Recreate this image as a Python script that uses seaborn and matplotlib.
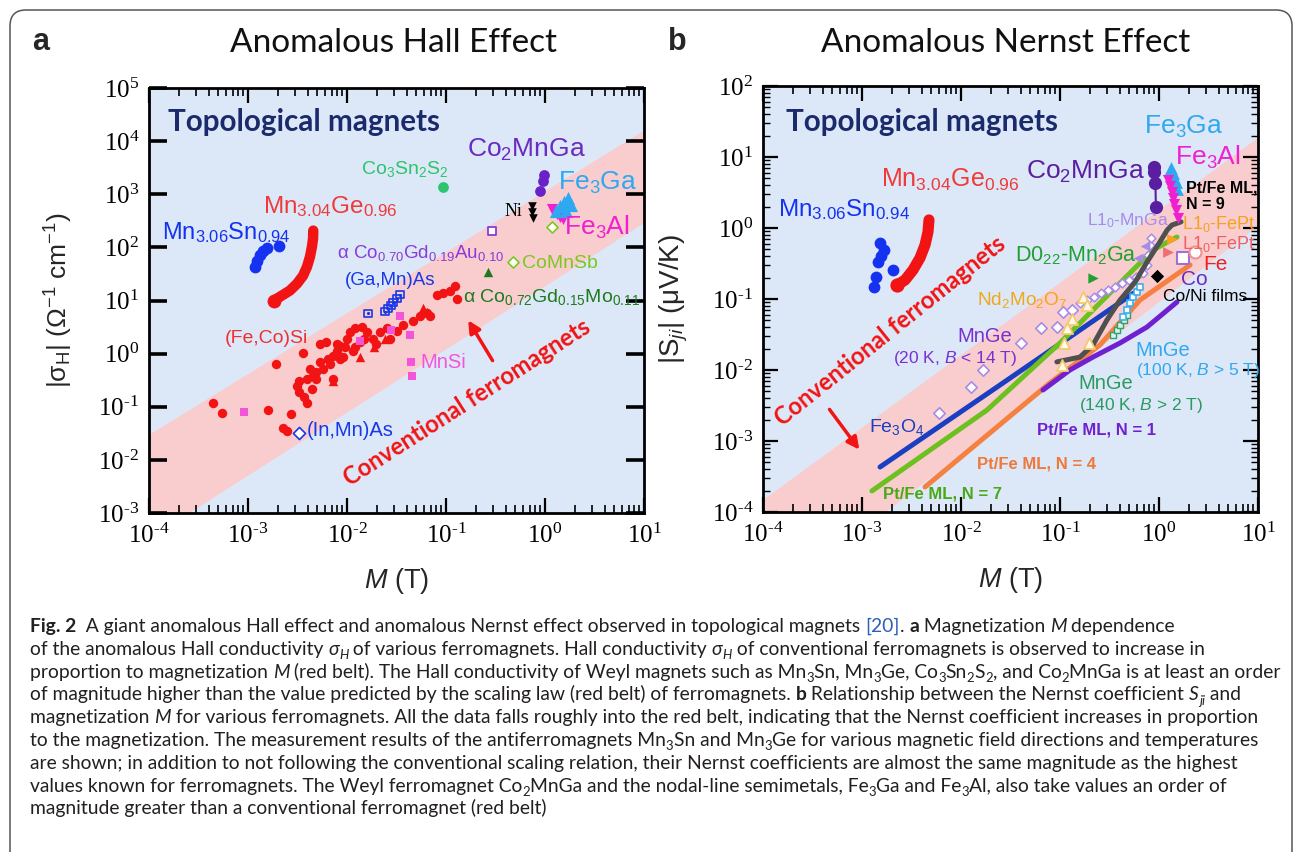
import numpy as np
import matplotlib
matplotlib.use("Agg")
import matplotlib.pyplot as plt
import seaborn as sns
from matplotlib.patches import FancyBboxPatch
from matplotlib.transforms import IdentityTransform
from matplotlib.ticker import LogLocator, FuncFormatter, NullLocator, NullFormatter

# ---------------- Panel a: anomalous Hall conductivity |sigma_H| vs M ----------------
hall_mn3sn_M = [1.18e-3, 1.23e-3, 1.32e-3, 1.42e-3, 1.56e-3, 2.06e-3]
hall_mn3sn_sigma = [43, 56, 73, 87, 99, 104]

hall_mn3ge_M = [1.83e-3, 2.2e-3, 2.65e-3, 3.13e-3, 3.6e-3, 3.95e-3, 4.23e-3, 4.43e-3, 4.54e-3, 4.56e-3]
hall_mn3ge_sigma = [10, 12.4, 15.4, 20.8, 29.4, 43.5, 67, 104, 147, 207]

hall_co3sn2s2_M = [0.093]
hall_co3sn2s2_sigma = [1380]

hall_co2mnga_M = [0.97, 0.95, 0.90]
hall_co2mnga_sigma = [2300, 1780, 1150]

hall_fe3ga_M = [1.29, 1.42, 1.56, 1.71, 1.83, 1.63]
hall_fe3ga_sigma = [493, 612, 728, 867, 640, 493]

hall_fe3al_M = [1.18, 1.32, 1.42, 1.52]
hall_fe3al_sigma = [538, 433, 380, 349]

hall_ni_M = [0.74, 0.74, 0.75]
hall_ni_sigma = [612, 472, 364]

hall_comnsb_M = [1.18, 0.475]
hall_comnsb_sigma = [246, 52]

hall_cogdau_M = [0.29]
hall_cogdau_sigma = [199]

hall_cogdmo_M = [0.265]
hall_cogdmo_sigma = [35]

hall_gamnas_M = [0.0163, 0.0242, 0.026, 0.0278, 0.0292, 0.032, 0.0343]
hall_gamnas_sigma = [5.7, 6.2, 7.0, 8.0, 9.1, 10.9, 12.9]

hall_inmnas_M = [3.27e-3]
hall_inmnas_sigma = [0.0325]

hall_mnsi_M = [9.1e-4, 0.0135, 0.028, 0.034, 0.043, 0.044, 0.045]
hall_mnsi_sigma = [0.080, 1.7, 2.8, 5.2, 2.2, 0.70, 0.38]

hall_fecosi_M = [4.4e-4, 5.5e-4, 1.58e-3, 2.75e-3, 2.24e-3, 2.45e-3, 1.9e-3, 3.56e-3, 5.3e-3, 6.2e-3,
                 3.1e-3, 3.3e-3, 3.7e-3, 3.9e-3, 4.5e-3, 4.9e-3, 4.4e-3, 5.3e-3, 5.7e-3, 6.4e-3,
                 7.2e-3, 7.9e-3, 8.5e-3, 0.010, 0.0107, 0.012, 0.0141, 0.0159, 9.1e-3, 0.0115,
                 0.0135, 0.0183, 0.0215, 0.0253, 0.032, 0.0368, 0.0465, 0.0547, 0.0644, 0.069,
                 0.0815, 0.094, 0.110, 0.124, 0.130, 7.2e-3, 3.9e-3, 4.9e-3, 7.9e-3, 9.6e-3,
                 6.7e-3, 4.2e-3, 3.3e-3, 0.015, 0.0195, 0.027, 8.5e-3, 0.012]
hall_fecosi_sigma = [0.119, 0.077, 0.087, 0.073, 0.040, 0.035, 0.65, 1.04, 1.55, 1.69,
                     0.25, 0.19, 0.154, 0.119, 0.38, 0.34, 0.22, 0.71, 0.52, 0.80,
                     0.92, 1.14, 1.42, 1.92, 2.6, 3.0, 3.2, 2.6, 0.88, 1.14,
                     1.69, 1.92, 2.6, 3.0, 2.7, 3.4, 4.2, 5.0, 5.7, 5.2,
                     12.5, 13.6, 14.9, 18.5, 10.5, 0.34, 0.34, 0.46, 1.55, 1.36,
                     0.65, 0.52, 0.31, 1.92, 1.55, 1.92, 0.80, 1.36]

hall_tri_M = [7.2e-3, 0.0135, 0.0187, 0.0242, 0.0587, 0.0644]
hall_tri_sigma = [0.31, 0.88, 1.36, 1.92, 7.1, 6.0]

# belt of conventional ferromagnets (upper and lower edges, straight on log-log axes)
hall_belt_M = [1e-5, 100]
hall_belt_upper = [2.1e-3, 2.2e5]
hall_belt_lower = [2.1e-5, 4.4e3]

# ---------------- Panel b: anomalous Nernst coefficient |S_ji| vs M ----------------
nernst_mn3sn_M = [1.52e-3, 1.67e-3, 1.55e-3, 1.45e-3, 2.06e-3, 1.38e-3, 1.32e-3]
nernst_mn3sn_S = [0.615, 0.49, 0.40, 0.33, 0.256, 0.204, 0.148]

nernst_mn3ge_M = [2.26e-3, 2.72e-3, 3.27e-3, 3.85e-3, 4.33e-3, 4.64e-3, 4.75e-3]
nernst_mn3ge_S = [0.157, 0.185, 0.256, 0.378, 0.576, 0.88, 1.30]

nernst_co2mnga_M = [0.89, 0.90, 0.92, 0.93]
nernst_co2mnga_S = [7.2, 6.2, 4.3, 2.0]

nernst_fe3ga_M = [1.32, 1.38, 1.42, 1.48, 1.52]
nernst_fe3ga_S = [7.0, 6.0, 5.0, 4.4, 3.6]

nernst_fe3al_M = [1.23, 1.30, 1.35, 1.40, 1.43, 1.48, 1.56]
nernst_fe3al_S = [4.7, 3.9, 3.2, 2.65, 2.2, 1.8, 1.4]

nernst_ptfe9_M = [0.093, 0.159, 0.215, 0.298, 0.404, 0.573, 0.757, 1.02, 1.21, 1.35, 1.67]
nernst_ptfe9_S = [0.0130, 0.0152, 0.0225, 0.0506, 0.0968, 0.173, 0.332, 0.635, 0.937, 1.10, 1.22]

nernst_ptfe7_M = [1.26e-3, 0.0183, 0.1, 0.869, 1.52]
nernst_ptfe7_S = [1.98e-4, 2.73e-3, 0.024, 0.49, 0.747]

nernst_ptfe4_M = [4.33e-3, 0.079, 0.253, 0.643, 2.06]
nernst_ptfe4_S = [2.25e-4, 6.56e-3, 0.0225, 0.0968, 0.301]

nernst_ptfe1_M = [0.0673, 0.126, 0.215, 0.404, 0.757, 1.52]
nernst_ptfe1_S = [5.23e-3, 0.01, 0.0152, 0.024, 0.0403, 0.0907]

nernst_fe3o4_M = [1.52e-3, 0.025, 0.55]
nernst_fe3o4_S = [4.3e-4, 6.2e-3, 0.12]

nernst_mnge20_M = [6.0e-3, 0.0126, 0.0167, 0.0404, 0.0643, 0.0933, 0.107, 0.132]
nernst_mnge20_S = [2.48e-3, 5.77e-3, 0.0100, 0.024, 0.039, 0.0403, 0.0656, 0.070]

nernst_mnga_M = [0.159, 0.187, 0.220, 0.259, 0.305, 0.360, 0.423, 0.498, 0.586, 0.689, 0.757, 0.77, 0.811, 0.83]
nernst_mnga_S = [0.0879, 0.0968, 0.107, 0.121, 0.134, 0.148, 0.168, 0.185, 0.204, 0.232, 0.301, 0.417, 0.576, 0.723]

nernst_l10mnga_M = [0.61, 0.72]
nernst_l10mnga_S = [0.38, 0.55]

nernst_nd2mo2o7_M = [0.171, 0.187, 0.132, 0.118, 0.110, 0.196, 0.105]
nernst_nd2mo2o7_S = [0.107, 0.0823, 0.0523, 0.039, 0.024, 0.024, 0.0118]

nernst_mnge100_M = [0.432, 0.475, 0.509, 0.546, 0.600, 0.643]
nernst_mnge100_S = [0.0557, 0.070, 0.0879, 0.107, 0.126, 0.148]

nernst_mnge140_M = [0.343, 0.376, 0.404, 0.443, 0.475]
nernst_mnge140_S = [0.0311, 0.0366, 0.043, 0.0506, 0.0595]

nernst_d022_M = [0.215]
nernst_d022_S = [0.198]
nernst_coni_M = [0.955]
nernst_coni_S = [0.211]
nernst_co_M = [1.75]
nernst_co_S = [0.378]
nernst_fe_M = [2.31]
nernst_fe_S = [0.459]
nernst_fept1_M = [1.35]
nernst_fept1_S = [0.70]
nernst_fept2_M = [1.23]
nernst_fept2_S = [0.459]

nernst_belt_M = [1e-5, 100]
nernst_belt_upper = [1.4e-5, 195]
nernst_belt_lower = [3.9e-7, 12.6]

x_decades = [1e-4, 1e-3, 1e-2, 1e-1, 1e0, 1e1]

# ---------------- style ----------------
sns.set_theme(style="ticks")
plt.rcParams["font.family"] = ["Liberation Sans", "DejaVu Sans"]
plt.rcParams["mathtext.fontset"] = "custom"
plt.rcParams["mathtext.rm"] = "Liberation Sans"
plt.rcParams["mathtext.it"] = "Liberation Sans:italic"
plt.rcParams["mathtext.bf"] = "Liberation Sans:bold"

BG_BLUE = "#dce8f8"
BELT = "#f9cdcd"
NAVY = "#1b2a6b"
RED = "#f21414"

W, H = 1295, 852
fig = plt.figure(figsize=(W / 100, H / 100), dpi=100)
fig.patch.set_facecolor("white")

ax_a = fig.add_axes([149 / W, 1 - 513 / H, 495 / W, 425 / H])
ax_b = fig.add_axes([763 / W, 1 - 512 / H, 495 / W, 426 / H])


def decade_label(v, pos):
    e = int(round(np.log10(v)))
    exp = ("\u2010%d" % -e) if e < 0 else "%d" % e
    return r"$\mathregular{10^{%s}}$" % exp


decade_fmt = FuncFormatter(decade_label)


def style_axes(ax, ylim, y_minor):
    ax.set_xscale("log")
    ax.set_yscale("log")
    ax.set_xlim(x_decades[0], x_decades[-1])
    ax.set_ylim(*ylim)
    ax.set_facecolor(BG_BLUE)
    ax.xaxis.set_major_locator(LogLocator(base=10, numticks=20))
    ax.xaxis.set_minor_locator(LogLocator(base=10, subs=np.arange(2, 10), numticks=20))
    ax.yaxis.set_major_locator(LogLocator(base=10, numticks=20))
    if y_minor:
        ax.yaxis.set_minor_locator(LogLocator(base=10, subs=np.arange(2, 10), numticks=20))
    else:
        ax.yaxis.set_minor_locator(NullLocator())
    ax.xaxis.set_major_formatter(decade_fmt)
    ax.yaxis.set_major_formatter(decade_fmt)
    ax.xaxis.set_minor_formatter(NullFormatter())
    ax.yaxis.set_minor_formatter(NullFormatter())
    ax.tick_params(which="both", direction="in", top=True, right=True, colors="black",
                   labelsize=18, labelfontfamily="Liberation Serif", labelcolor="black")
    ax.tick_params(axis="x", which="major", length=11, width=1.6, pad=8)
    ax.tick_params(axis="x", which="minor", length=6, width=1.2)
    ax.tick_params(axis="y", which="major", length=13 if not y_minor else 11,
                   width=2.6 if not y_minor else 1.6, pad=7)
    ax.tick_params(axis="y", which="minor", length=5, width=1.0)
    for sp in ax.spines.values():
        sp.set_visible(True)
        sp.set_color("black")
        sp.set_linewidth(2)
        sp.set_zorder(5)
    ax.grid(False)


def belt(ax, M, upper, lower):
    xs = [M[0], M[1], M[1], M[0]]
    ys = [lower[0], lower[1], upper[1], upper[0]]
    ax.fill(xs, ys, color=BELT, lw=0, zorder=0.2)


def pts(ax, x, y, color, marker="o", s=40, face=None, lw=0, edge=None, z=3):
    sns.scatterplot(x=x, y=y, ax=ax, color=color, marker=marker, s=s,
                    facecolor=face if face is not None else color,
                    edgecolor=edge if edge is not None else color,
                    linewidth=lw, legend=False, zorder=z)


def curve(ax, x, y, color, lw, z=2.5, cap="round"):
    sns.lineplot(x=x, y=y, ax=ax, color=color, linewidth=lw, sort=False,
                 estimator=None, legend=False, zorder=z, solid_capstyle=cap)


def label(ax, fx, fy, s, size, color, **kw):
    kw.setdefault("ha", "left")
    kw.setdefault("va", "center")
    ax.text(fx, fy, s, transform=ax.transAxes, fontsize=size, color=color, zorder=6, **kw)


# ---------------- panel a ----------------
style_axes(ax_a, (1e-3, 1e5), y_minor=False)
belt(ax_a, hall_belt_M, hall_belt_upper, hall_belt_lower)

pts(ax_a, hall_fecosi_M, hall_fecosi_sigma, RED, "o", 46)
pts(ax_a, hall_tri_M, hall_tri_sigma, RED, "^", 46)
pts(ax_a, hall_mnsi_M, hall_mnsi_sigma, "#f255d8", "s", 38)
pts(ax_a, hall_gamnas_M, hall_gamnas_sigma, "#1838e8", "s", 28, face="none", lw=1.2)
pts(ax_a, hall_gamnas_M, hall_gamnas_sigma, "#1838e8", "o", 5)
pts(ax_a, hall_inmnas_M, hall_inmnas_sigma, "#1838e8", "D", 38, face="white", lw=1.2)
curve(ax_a, hall_mn3ge_M, hall_mn3ge_sigma, RED, 7.5)
pts(ax_a, hall_mn3ge_M[:1], hall_mn3ge_sigma[:1], RED, "o", 100)
pts(ax_a, hall_mn3sn_M, hall_mn3sn_sigma, "#1432f0", "o", 72)
pts(ax_a, hall_co3sn2s2_M, hall_co3sn2s2_sigma, "#2cc46c", "o", 60)
pts(ax_a, hall_co2mnga_M, hall_co2mnga_sigma, "#6a22c8", "o", 60)
pts(ax_a, hall_ni_M, hall_ni_sigma, "black", "v", 38)
pts(ax_a, hall_fe3al_M, hall_fe3al_sigma, "#f020d0", "v", 64)
pts(ax_a, hall_fe3ga_M, hall_fe3ga_sigma, "#2ea8f0", "^", 90)
pts(ax_a, hall_comnsb_M, hall_comnsb_sigma, "#7cc820", "D", 32, face="white", lw=1.2)
pts(ax_a, hall_cogdau_M, hall_cogdau_sigma, "#8a3ad8", "s", 38, face="white", lw=1.3)
pts(ax_a, hall_cogdmo_M, hall_cogdmo_sigma, "#1e7a1e", "^", 46)

label(ax_a, 0.038, 0.920, "Topological magnets", 21.3, NAVY, family="Lato", fontweight="bold")
label(ax_a, 0.642, 0.854, r"Co$_2$MnGa", 19, "#6a2bc0")
label(ax_a, 0.429, 0.809, r"Co$_3$Sn$_2$S$_2$", 14, "#2cc46c")
label(ax_a, 0.826, 0.776, r"Fe$_3$Ga", 19, "#2ea8f0")
label(ax_a, 0.230, 0.722, r"Mn$_{3.04}$Ge$_{0.96}$", 17.5, "#f03a3a")
label(ax_a, 0.719, 0.710, "Ni", 13, "black", family="Liberation Serif")
label(ax_a, 0.838, 0.671, r"Fe$_3$Al", 19, "#f020d0")
label(ax_a, 0.026, 0.659, r"Mn$_{3.06}$Sn$_{0.94}$", 17, "#1432f0")
label(ax_a, 0.380, 0.612, r"α Co$_{0.70}$Gd$_{0.19}$Au$_{0.10}$", 13.5, "#8a3ad8")
label(ax_a, 0.754, 0.588, "CoMnSb", 14, "#7cc820")
label(ax_a, 0.396, 0.546, "(Ga,Mn)As", 13.5, "#1838e8")
label(ax_a, 0.634, 0.508, r"α Co$_{0.72}$Gd$_{0.15}$Mo$_{0.11}$", 14, "#1e7a1e")
label(ax_a, 0.154, 0.410, "(Fe,Co)Si", 14, "#f03030")
label(ax_a, 0.549, 0.355, "MnSi", 14.5, "#f255d8")
label(ax_a, 0.319, 0.193, "(In,Mn)As", 14.5, "#1838e8")
label(ax_a, 0.642, 0.261, "Conventional ferromagnets", 17, RED, family="Lato",
      fontweight="bold", ha="center", rotation=32.7, rotation_mode="anchor")
ax_a.annotate("", xy=(0.642, 0.459), xytext=(0.697, 0.353), xycoords="axes fraction",
              arrowprops=dict(arrowstyle="-|>", color=RED, lw=2.5, mutation_scale=18), zorder=6)

ax_a.set_xlabel(r"$\mathit{M}$ (T)", fontsize=19.5)
ax_a.set_ylabel(r"|σ$_{\mathregular{H}}$| (Ω$^{\mathregular{-1}}$ cm$^{\mathregular{-1}}$)", fontsize=19)
ax_a.yaxis.set_label_coords(-0.15, 0.5)
ax_a.xaxis.set_label_coords(0.5, -0.125)

# ---------------- panel b ----------------
style_axes(ax_b, (1e-4, 1e2), y_minor=True)
belt(ax_b, nernst_belt_M, nernst_belt_upper, nernst_belt_lower)

curve(ax_b, nernst_fe3o4_M, nernst_fe3o4_S, "#1a3fc0", 3.6)
curve(ax_b, nernst_ptfe7_M, nernst_ptfe7_S, "#6cc020", 3.6)
curve(ax_b, nernst_ptfe4_M, nernst_ptfe4_S, "#f58040", 3.6)
curve(ax_b, nernst_ptfe1_M, nernst_ptfe1_S, "#7020d0", 3.6)
pts(ax_b, nernst_mnge20_M, nernst_mnge20_S, "#a88ae8", "D", 34, face="white", lw=1.2)
pts(ax_b, nernst_mnga_M, nernst_mnga_S, "#a88ae8", "D", 20, face="white", lw=1.1)
pts(ax_b, nernst_l10mnga_M, nernst_l10mnga_S, "#a88ae8", "<", 50)
pts(ax_b, nernst_mnge140_M, nernst_mnge140_S, "#30a070", "s", 18, face="#d8f2e4", lw=1.0)
pts(ax_b, nernst_mnge100_M, nernst_mnge100_S, "#38b0f0", "s", 22, face="white", lw=1.2)
curve(ax_b, nernst_ptfe9_M, nernst_ptfe9_S, "#505050", 3.6, z=3.2)
pts(ax_b, nernst_nd2mo2o7_M, nernst_nd2mo2o7_S, "#f2c870", "^", 64, face="#fffbe6", lw=1.3, z=3.3)
pts(ax_b, nernst_d022_M, nernst_d022_S, "#20a030", ">", 55)
pts(ax_b, nernst_coni_M, nernst_coni_S, "black", "D", 46)
pts(ax_b, nernst_co_M, nernst_co_S, "#a070d8", "s", 75, face="white", lw=1.5)
pts(ax_b, nernst_fe_M, nernst_fe_S, "#f09090", "o", 75, face="white", lw=1.5)
pts(ax_b, nernst_fept1_M, nernst_fept1_S, "#f8a020", ">", 60)
pts(ax_b, nernst_fept2_M, nernst_fept2_S, "#f07070", ">", 60)
curve(ax_b, nernst_mn3ge_M, nernst_mn3ge_S, RED, 8)
pts(ax_b, nernst_mn3ge_M[:1], nernst_mn3ge_S[:1], RED, "o", 105)
pts(ax_b, nernst_mn3sn_M, nernst_mn3sn_S, "#1432f0", "o", 72)
sns.lineplot(x=nernst_co2mnga_M, y=nernst_co2mnga_S, ax=ax_b, color="#5a1ea0", linewidth=1.5,
             sort=False, estimator=None, legend=False, marker="o", markersize=9.5,
             markeredgewidth=0, zorder=3.5)
pts(ax_b, nernst_fe3ga_M, nernst_fe3ga_S, "#2ea8f0", "^", 85, z=3.6)
pts(ax_b, nernst_fe3al_M, nernst_fe3al_S, "#f020d0", "v", 64, z=3.7)

label(ax_b, 0.046, 0.915, "Topological magnets", 21.3, NAVY, family="Lato", fontweight="bold")
label(ax_b, 0.770, 0.904, r"Fe$_3$Ga", 19, "#2ea8f0")
label(ax_b, 0.832, 0.833, r"Fe$_3$Al", 19, "#f020d0")
label(ax_b, 0.531, 0.798, r"Co$_2$MnGa", 19, "#5a1ea0")
label(ax_b, 0.855, 0.761, "Pt/Fe ML,", 11.5, "black", fontweight="bold")
label(ax_b, 0.855, 0.721, "N = 9", 11.5, "black", fontweight="bold")
label(ax_b, 0.238, 0.779, r"Mn$_{3.04}$Ge$_{0.96}$", 18, "#f03a3a")
label(ax_b, 0.030, 0.711, r"Mn$_{3.06}$Sn$_{0.94}$", 17.5, "#1432f0")
label(ax_b, 0.654, 0.683, r"L1$_0$-MnGa", 12.5, "#a88ae8")
label(ax_b, 0.846, 0.676, r"L1$_0$-FePt", 13, "#f8a020", clip_on=True)
label(ax_b, 0.846, 0.630, r"L1$_0$-FePt", 13, "#f06060", clip_on=True)
label(ax_b, 0.509, 0.601, r"D0$_{22}$-Mn$_2$Ga", 15.5, "#20a030")
label(ax_b, 0.889, 0.580, "Fe", 15, "#f02020")
label(ax_b, 0.844, 0.545, "Co", 15, "#6a2bc0")
label(ax_b, 0.808, 0.507, "Co/Ni films", 12.5, "black")
label(ax_b, 0.432, 0.498, r"Nd$_2$Mo$_2$O$_7$", 13.7, "#f0a818")
label(ax_b, 0.392, 0.412, "MnGe", 14.5, "#7a30d0")
label(ax_b, 0.263, 0.360, r"(20 K, $\mathit{B}$ < 14 T)", 12.5, "#7a30d0")
label(ax_b, 0.753, 0.380, "MnGe", 14.5, "#30a8f0")
label(ax_b, 0.753, 0.333, r"(100 K, $\mathit{B}$ > 5 T)", 12.5, "#30a8f0")
label(ax_b, 0.638, 0.301, "MnGe", 14.5, "#2a9a60")
label(ax_b, 0.638, 0.251, r"(140 K, $\mathit{B}$ > 2 T)", 12.5, "#2a9a60")
label(ax_b, 0.214, 0.199, r"Fe$_3$O$_4$", 14, "#1a3fc0")
label(ax_b, 0.554, 0.192, "Pt/Fe ML, N = 1", 12, "#7020d0", fontweight="bold")
label(ax_b, 0.432, 0.113, "Pt/Fe ML, N = 4", 12, "#f07838", fontweight="bold")
label(ax_b, 0.242, 0.042, "Pt/Fe ML, N = 7", 12, "#4aa818", fontweight="bold")
label(ax_b, 0.257, 0.425, "Conventional ferromagnets", 17, RED, family="Lato",
      fontweight="bold", ha="center", rotation=38.7, rotation_mode="anchor")
ax_b.annotate("", xy=(0.198, 0.141), xytext=(0.131, 0.246), xycoords="axes fraction",
              arrowprops=dict(arrowstyle="-|>", color=RED, lw=2.5, mutation_scale=18), zorder=6)

ax_b.set_xlabel(r"$\mathit{M}$ (T)", fontsize=19.5)
ax_b.set_ylabel(r"|S$_{\mathit{ji}}$| (μV/K)", fontsize=20)
ax_b.yaxis.set_label_coords(-0.147, 0.5)
ax_b.xaxis.set_label_coords(0.5, -0.125)

# ---------------- panel headings ----------------
fig.text(32 / W, 1 - 42 / H, "a", fontsize=22, fontweight="bold", va="center", ha="left")
fig.text(668 / W, 1 - 42 / H, "b", fontsize=22, fontweight="bold", va="center", ha="left")
fig.text(393 / W, 1 - 43 / H, "Anomalous Hall Effect", fontsize=24, family="Lato",
         va="center", ha="center", color="#111111")
fig.text(1006 / W, 1 - 43 / H, "Anomalous Nernst Effect", fontsize=24, family="Lato",
         va="center", ha="center", color="#111111")

# rounded frame around the figure
frame = FancyBboxPatch((10, -40), 1282, H + 40 - 10, boxstyle="round,pad=0,rounding_size=16",
                       transform=IdentityTransform(), facecolor="none", edgecolor="#555555",
                       linewidth=1.1, zorder=0)
fig.add_artist(frame)

# ---------------- caption ----------------
caption_lines = [
    [("Fig. 2", "b"), ("  A giant anomalous Hall effect and anomalous Nernst effect observed in topological magnets ", ""),
     ("[20]", "u"), (". ", ""), ("a", "b"), (" Magnetization ", ""), ("M", "i"), (" dependence", "")],
    [("of the anomalous Hall conductivity ", ""), ("σ", "i"), ("H", "is"),
     (" of various ferromagnets. Hall conductivity ", ""), ("σ", "i"), ("H", "is"),
     (" of conventional ferromagnets is observed to increase in", "")],
    [("proportion to magnetization ", ""), ("M", "i"),
     (" (red belt). The Hall conductivity of Weyl magnets such as Mn", ""), ("3", "s"), ("Sn, Mn", ""),
     ("3", "s"), ("Ge, Co", ""), ("3", "s"), ("Sn", ""), ("2", "s"), ("S", ""), ("2", "s"),
     (", and Co", ""), ("2", "s"), ("MnGa is at least an order", "")],
    [("of magnitude higher than the value predicted by the scaling law (red belt) of ferromagnets. ", ""),
     ("b", "b"), (" Relationship between the Nernst coefficient ", ""), ("S", "i"), ("ji", "is"), (" and", "")],
    [("magnetization ", ""), ("M", "i"),
     (" for various ferromagnets. All the data falls roughly into the red belt, indicating that the Nernst coefficient increases in proportion", "")],
    [("to the magnetization. The measurement results of the antiferromagnets Mn", ""), ("3", "s"),
     ("Sn and Mn", ""), ("3", "s"), ("Ge for various magnetic field directions and temperatures", "")],
    [("are shown; in addition to not following the conventional scaling relation, their Nernst coefficients are almost the same magnitude as the highest", "")],
    [("values known for ferromagnets. The Weyl ferromagnet Co", ""), ("2", "s"),
     ("MnGa and the nodal-line semimetals, Fe", ""), ("3", "s"), ("Ga and Fe", ""), ("3", "s"),
     ("Al, also take values an order of", "")],
    [("magnitude greater than a conventional ferromagnet (red belt)", "")],
]
caption_line_ends = [1205, 1218, 1285, 1265, 1273, 1275, 1258, 1228, 555]

renderer = fig.canvas.get_renderer()
CAP_FONT = "Lato"
CAP_X0 = 30


def run_props(style, size):
    kw = dict(family=CAP_FONT, fontsize=size, color="#231f20")
    if "b" in style:
        kw["fontweight"] = "bold"
    if "i" in style:
        kw["fontstyle"] = "italic"
    if "u" in style:
        kw["color"] = "#2b5fb8"
    if "s" in style:
        kw["fontsize"] = size * 0.68
    return kw


def advance(text, kw):
    probe = fig.text(0, 0, text + "|", transform=IdentityTransform(), **kw)
    bar = fig.text(0, 0, "|", transform=IdentityTransform(), **kw)
    w = probe.get_window_extent(renderer).width - bar.get_window_extent(renderer).width
    probe.remove()
    bar.remove()
    return w


def line_width(runs, size):
    return sum(advance(t, run_props(st, size)) for t, st in runs)


# one caption size for every line, chosen so no line runs past its right end
base = 13.0
cap_size = base * min((end - CAP_X0) / line_width(runs, base)
                      for runs, end in zip(caption_lines, caption_line_ends))

for i, runs in enumerate(caption_lines):
    y_base = H - (632 + 22.8 * i)
    x = CAP_X0
    for text, style in runs:
        kw = run_props(style, cap_size)
        dy = -0.22 * cap_size * 100 / 72 if "s" in style else 0
        fig.text(x, y_base + dy, text, transform=IdentityTransform(), ha="left", va="baseline", **kw)
        x += advance(text, kw)

fig.savefig("out.png", dpi=100)
